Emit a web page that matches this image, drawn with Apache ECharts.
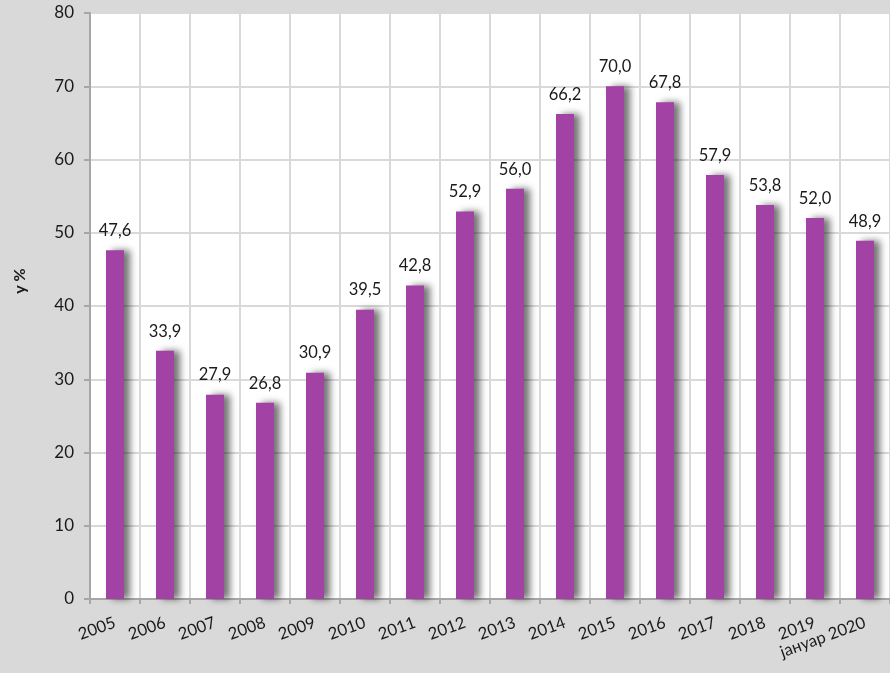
<!DOCTYPE html>
<html>
<head>
<meta charset="utf-8">
<script src="https://cdn.jsdelivr.net/npm/echarts@6/dist/echarts.min.js"></script>
<style>
  html, body { margin: 0; padding: 0; background: #d9d9d9; }
  #chart { width: 890px; height: 673px; }
</style>
</head>
<body>
<div id="chart"></div>
<script>
// Year categories along the x axis
const categories = ['2005', '2006', '2007', '2008', '2009', '2010', '2011', '2012',
  '2013', '2014', '2015', '2016', '2017', '2018', '2019', 'јануар 2020'];
// Values in percent
const values = [47.6, 33.9, 27.9, 26.8, 30.9, 39.5, 42.8, 52.9,
  56.0, 66.2, 70.0, 67.8, 57.9, 53.8, 52.0, 48.9];
// Value axis range
const yMin = 0, yMax = 80, yStep = 10;

const fontFamily = 'Lato, "Open Sans", sans-serif';
const chart = echarts.init(document.getElementById('chart'), null, { renderer: 'canvas' });

chart.setOption({
  backgroundColor: '#d9d9d9',
  animation: false,
  grid: { left: 90, right: 0, top: 13, bottom: 74, show: true, backgroundColor: '#ffffff', borderWidth: 0 },
  xAxis: {
    type: 'category',
    data: categories,
    boundaryGap: true,
    axisLine: { show: true, lineStyle: { color: '#a6a6a6', width: 2 } },
    axisTick: { show: true, length: 5, lineStyle: { color: '#a6a6a6', width: 2 } },
    splitLine: { show: true, lineStyle: { color: '#d9d9d9', width: 2 } },
    axisLabel: {
      rotate: 20, interval: 0, margin: 23,
      color: '#1a1a1a', fontSize: 16.5, fontFamily: fontFamily
    }
  },
  yAxis: {
    type: 'value',
    min: yMin, max: yMax, interval: yStep,
    name: 'у %',
    nameLocation: 'middle',
    nameGap: 62,
    nameRotate: 90,
    nameTextStyle: { color: '#1a1a1a', fontSize: 16, fontWeight: 'bold', fontFamily: fontFamily, padding: [0, 0, 0, 50] },
    axisLine: { show: true, lineStyle: { color: '#a6a6a6', width: 2 } },
    axisTick: { show: true, length: 6, lineStyle: { color: '#a6a6a6', width: 2 } },
    splitLine: { show: true, lineStyle: { color: '#d9d9d9', width: 2 } },
    axisLabel: { color: '#1a1a1a', fontSize: 17, fontFamily: fontFamily, margin: 16 }
  },
  series: [{
    type: 'bar',
    data: values,
    barWidth: 18,
    itemStyle: {
      color: '#a342a5',
      shadowColor: 'rgba(0,0,0,0.55)',
      shadowBlur: 7,
      shadowOffsetX: 6,
      shadowOffsetY: 0
    },
    label: {
      show: true,
      position: 'top',
      distance: 11,
      color: '#1a1a1a',
      fontSize: 16.5,
      fontFamily: fontFamily,
      formatter: p => p.value.toFixed(1).replace('.', ',')
    }
  }]
});
</script>
</body>
</html>
